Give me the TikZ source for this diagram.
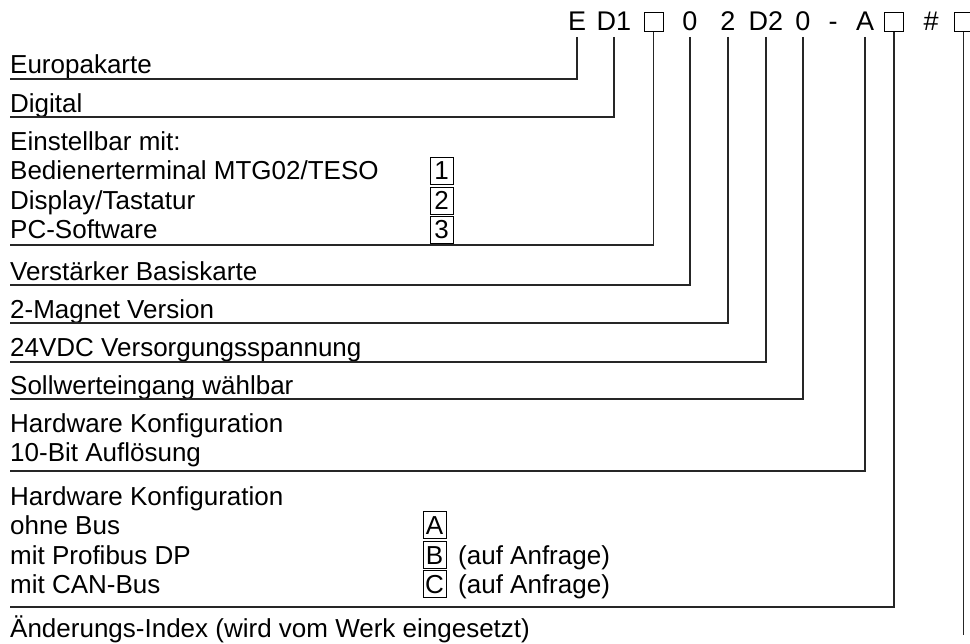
\documentclass[tikz,border=0pt]{standalone}
\usepackage{fontspec}
\setmainfont{Liberation Sans}
\usetikzlibrary{calc}
\tikzset{
	lbl/.style={anchor=base west, inner sep=0pt, font=\fontsize{26}{30}\selectfont},
	code/.style={anchor=base, inner sep=0pt, outer sep=6pt, text depth=0pt, font=\fontsize{27}{32}\selectfont},
	codebox/.style={draw, line width=1pt, minimum size=19pt, inner sep=0pt, outer sep=0pt},
	selbox/.style={draw, line width=1pt, anchor=base, minimum width=23pt, minimum height=27pt, inner sep=0pt, text height=18.6pt, text depth=0pt, font=\fontsize{26}{30}\selectfont},
	lead/.style={line width=1.1pt, black!85}
}

\begin{document}
\begin{tikzpicture}[x=1pt, y=-1pt]
			%%%%% START %%%%%
			\useasboundingbox (0, 0) rectangle (970, 644);
			
			% type code
			\node[code] (cE) at (577, 31) {E};
			\node[code] (cD1) at (614, 31) {D1};
			\node[codebox] (cBoxA) at (653.5, 22.5) {};
			\node[code] (cNullA) at (690, 31) {0};
			\node[code] (cZwei) at (728, 31) {2};
			\node[code] (cD2) at (766, 31) {D2};
			\node[code] (cNullB) at (803, 31) {0};
			\node[code] (cDash) at (833, 31) {-};
			\node[code] (cA) at (865, 31) {A};
			\node[codebox] (cBoxB) at (894, 22.5) {};
			\node[code] (cHash) at (931, 31) {\#};
			\node[codebox] (cBoxC) at (963.5, 22.5) {};
			
			% labels
			\node[lbl] (lEuropa) at (10, 74) {Europakarte};
			\node[lbl] (lDigital) at (10, 113) {Digital};
			\node[lbl] (lEinst) at (10, 151) {Einstellbar mit:};
			\node[lbl] (lBed) at (10, 180) {Bedienerterminal MTG02/TESO};
			\node[lbl] (lDisp) at (10, 210) {Display/Tastatur};
			\node[lbl] (lPC) at (10, 239) {PC-Software};
			\node[selbox] (sEins) at (441.5, 180) {1};
			\node[selbox] (sZwei) at (441.5, 210) {2};
			\node[selbox] (sDrei) at (441.5, 239) {3};
			\node[lbl] (lVerst) at (10, 281) {Verstärker Basiskarte};
			\node[lbl] (lMagnet) at (10, 319) {2-Magnet Version};
			\node[lbl] (lVDC) at (10, 357) {24VDC Versorgungsspannung};
			\node[lbl] (lSoll) at (10, 395) {Sollwerteingang wählbar};
			\node[lbl] (lHwA) at (10, 432) {Hardware Konfiguration};
			\node[lbl] (lBit) at (10, 461) {10-Bit Auflösung};
			\node[lbl] (lHwB) at (10, 505) {Hardware Konfiguration};
			\node[lbl] (lOhne) at (10, 534) {ohne Bus};
			\node[lbl] (lProfi) at (10, 564) {mit Profibus DP};
			\node[lbl] (lCAN) at (10, 593) {mit CAN-Bus};
			\node[selbox] (sA) at (434.5, 534) {A};
			\node[selbox] (sB) at (434.5, 564) {B};
			\node[selbox] (sC) at (434.5, 593) {C};
			\node[lbl] (lAnfB) at (458, 564) {(auf Anfrage)};
			\node[lbl] (lAnfC) at (458, 593) {(auf Anfrage)};
			\node[lbl] (lIndex) at (10, 637) {Änderungs-Index (wird vom Werk eingesetzt)};
			
			% line ends
			\coordinate (eEuropa) at (10, 79);
			\coordinate (eDigital) at (10, 117);
			\coordinate (ePC) at (10, 245);
			\coordinate (eVerst) at (10, 285);
			\coordinate (eMagnet) at (10, 323);
			\coordinate (eVDC) at (10, 362);
			\coordinate (eSoll) at (10, 399);
			\coordinate (eBit) at (10, 471);
			\coordinate (eCAN) at (10, 607);
			\coordinate (eIndex) at (963.5, 635);
			
			% leaders
			\draw[lead] (cE) |- (eEuropa);
			\draw[lead] (cD1) |- (eDigital);
			\draw[lead] (cBoxA) |- (ePC);
			\draw[lead] (cNullA) |- (eVerst);
			\draw[lead] (cZwei) |- (eMagnet);
			\draw[lead] (cD2) |- (eVDC);
			\draw[lead] (cNullB) |- (eSoll);
			\draw[lead] (cA) |- (eBit);
			\draw[lead] (cBoxB) |- (eCAN);
			\draw[lead] (cBoxC) -- (eIndex);
			
			%%%%% END %%%%%
\end{tikzpicture}
\end{document}
